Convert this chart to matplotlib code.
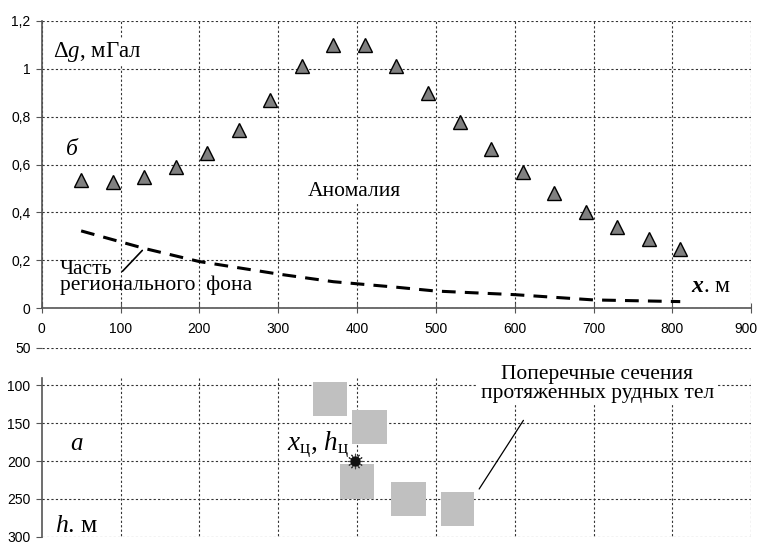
import matplotlib
matplotlib.use('Agg')
import matplotlib.pyplot as plt
from matplotlib.patches import Rectangle
import matplotlib.transforms as mtransforms

plt.rcParams['font.family'] = ['Liberation Sans', 'DejaVu Sans']
plt.rcParams['mathtext.fontset'] = 'custom'
plt.rcParams['mathtext.rm'] = 'Liberation Serif'
plt.rcParams['mathtext.it'] = 'Liberation Serif:italic'
plt.rcParams['mathtext.bf'] = 'Liberation Serif:italic:bold'

SERIF = ['Liberation Serif', 'DejaVu Serif']

# anomaly (triangles)
x_obs = [50, 90, 130, 170, 210, 250, 290, 330, 370, 410,
         450, 490, 530, 570, 610, 650, 690, 730, 770, 810]
dg_obs = [0.535, 0.528, 0.549, 0.590, 0.650, 0.742, 0.870, 1.009, 1.097, 1.097,
          1.013, 0.897, 0.778, 0.664, 0.570, 0.481, 0.403, 0.341, 0.290, 0.247]

# regional background (dashed)
x_reg = [50, 130, 200, 300, 370, 450, 500, 600, 700, 810]
dg_reg = [0.323, 0.250, 0.195, 0.143, 0.111, 0.088, 0.072, 0.057, 0.035, 0.028]

# ore body cross-sections: left x, top h, width, height
body_x = [344, 394, 379, 443, 506]
body_h = [95, 133, 204, 227, 241]
body_w = [43, 44, 43, 44, 43]
body_d = [46, 45, 46, 46, 45]

x_c, h_c = 398, 200

x_ticks = [0, 100, 200, 300, 400, 500, 600, 700, 800, 900]
dg_ticks = [0, 0.2, 0.4, 0.6, 0.8, 1.0, 1.2]
dg_labels = ['0', '0,2', '0,4', '0,6', '0,8', '1', '1,2']
h_ticks = [50, 100, 150, 200, 250, 300]

grid_kw = dict(color='#333333', lw=0.8, linestyle=(0, (2, 2)))

fig = plt.figure(figsize=(7.6, 5.43), dpi=100)
ax1 = fig.add_axes([0.0549, 0.4322, 0.9335, 0.5297])
ax2 = fig.add_axes([0.0549, 0.0116, 0.9335, 0.3481])

# ---- top panel (б)
ax1.set_xlim(0, 900)
ax1.set_ylim(0, 1.2)
ax1.set_xticks(x_ticks)
ax1.set_yticks(dg_ticks)
ax1.set_yticklabels(dg_labels)
ax1.grid(True, **grid_kw)
ax1.set_axisbelow(True)
for s in ['top', 'right']:
    ax1.spines[s].set_visible(False)
for s in ['left', 'bottom']:
    ax1.spines[s].set_color('#555555')
    ax1.spines[s].set_linewidth(1.2)
ax1.tick_params(axis='x', direction='inout', length=7, labelsize=10, pad=6, color='#555555')
ax1.tick_params(axis='y', direction='out', length=4, labelsize=10, pad=4, color='#555555')
# nudge the last x label so it stays inside the figure
last = ax1.get_xticklabels()[-1]
last.set_transform(last.get_transform() +
                   mtransforms.ScaledTranslation(-4 / 72, 0, fig.dpi_scale_trans))

ax1.plot(x_reg, dg_reg, color='black', lw=2.2, linestyle=(0, (4.5, 3)), zorder=3)
ax1.plot(x_obs, dg_obs, linestyle='none', marker='^', ms=10,
         mfc='#808080', mec='black', mew=1.0, zorder=4)

box = dict(facecolor='white', edgecolor='none', pad=1)
ax1.text(14, 1.05, r'$\Delta g$, мГал', fontsize=16.5, family=SERIF, bbox=box)
ax1.text(30, 0.64, r'$б$', fontsize=17, family=SERIF)
ax1.text(397, 0.468, 'Аномалия', fontsize=15.5, family=SERIF, ha='center',
         va='baseline', bbox=box)
ax1.text(23, 0.055, 'Часть\nрегионального  фона', fontsize=15.5, family=SERIF,
         va='bottom', linespacing=0.75)
ax1.annotate('', xy=(130, 0.250), xytext=(100, 0.146),
             arrowprops=dict(arrowstyle='-', color='black', lw=1.2))
ax1.text(824, 0.068, r'$\mathbf{x}$. м', fontsize=17, family=SERIF, bbox=box)

# ---- bottom panel (а)
ax2.set_xlim(0, 900)
ax2.set_ylim(300, 50)
ax2.set_xticks(x_ticks)
ax2.set_yticks(h_ticks)
ax2.tick_params(axis='x', bottom=False, labelbottom=False)
ax2.tick_params(axis='y', direction='out', length=4, labelsize=10, pad=4, color='#555555')
ax2.yaxis.grid(True, **grid_kw)
ax2.vlines(x_ticks[1:], 90, 300, **grid_kw)
for s in ['top', 'right', 'bottom']:
    ax2.spines[s].set_visible(False)
ax2.spines['left'].set_bounds(90, 300)
ax2.spines['left'].set_color('#555555')
ax2.spines['left'].set_linewidth(1.2)
ax2.set_axisbelow(True)

for bx, bh, bw, bd in zip(body_x, body_h, body_w, body_d):
    ax2.add_patch(Rectangle((bx, bh), bw, bd, facecolor='#c0c0c0',
                            edgecolor='none', zorder=3))

ax2.scatter([x_c], [h_c], marker=(12, 2, 0), s=110, color='#444444', lw=0.8, zorder=4)
ax2.scatter([x_c], [h_c], marker='o', s=40, color='#111111', zorder=5)

ax2.text(36, 185, r'$a$', fontsize=18, family=SERIF)
ax2.text(311, 186, r'$x_{\mathrm{ц}}$, $h_{\mathrm{ц}}$', fontsize=19.5, family=SERIF)
ax2.text(17, 294, r'$h$. м', fontsize=18.5, family=SERIF)
ax2.text(705, 98, 'Поперечные сечения\nпротяженных рудных тел', fontsize=15.5,
         family=SERIF, ha='center', va='center', linespacing=0.95,
         bbox=dict(facecolor='white', edgecolor='none', pad=2))
ax2.annotate('', xy=(553, 240), xytext=(613, 143),
             arrowprops=dict(arrowstyle='-', color='black', lw=0.9))

fig.savefig('out.png', dpi=100)
